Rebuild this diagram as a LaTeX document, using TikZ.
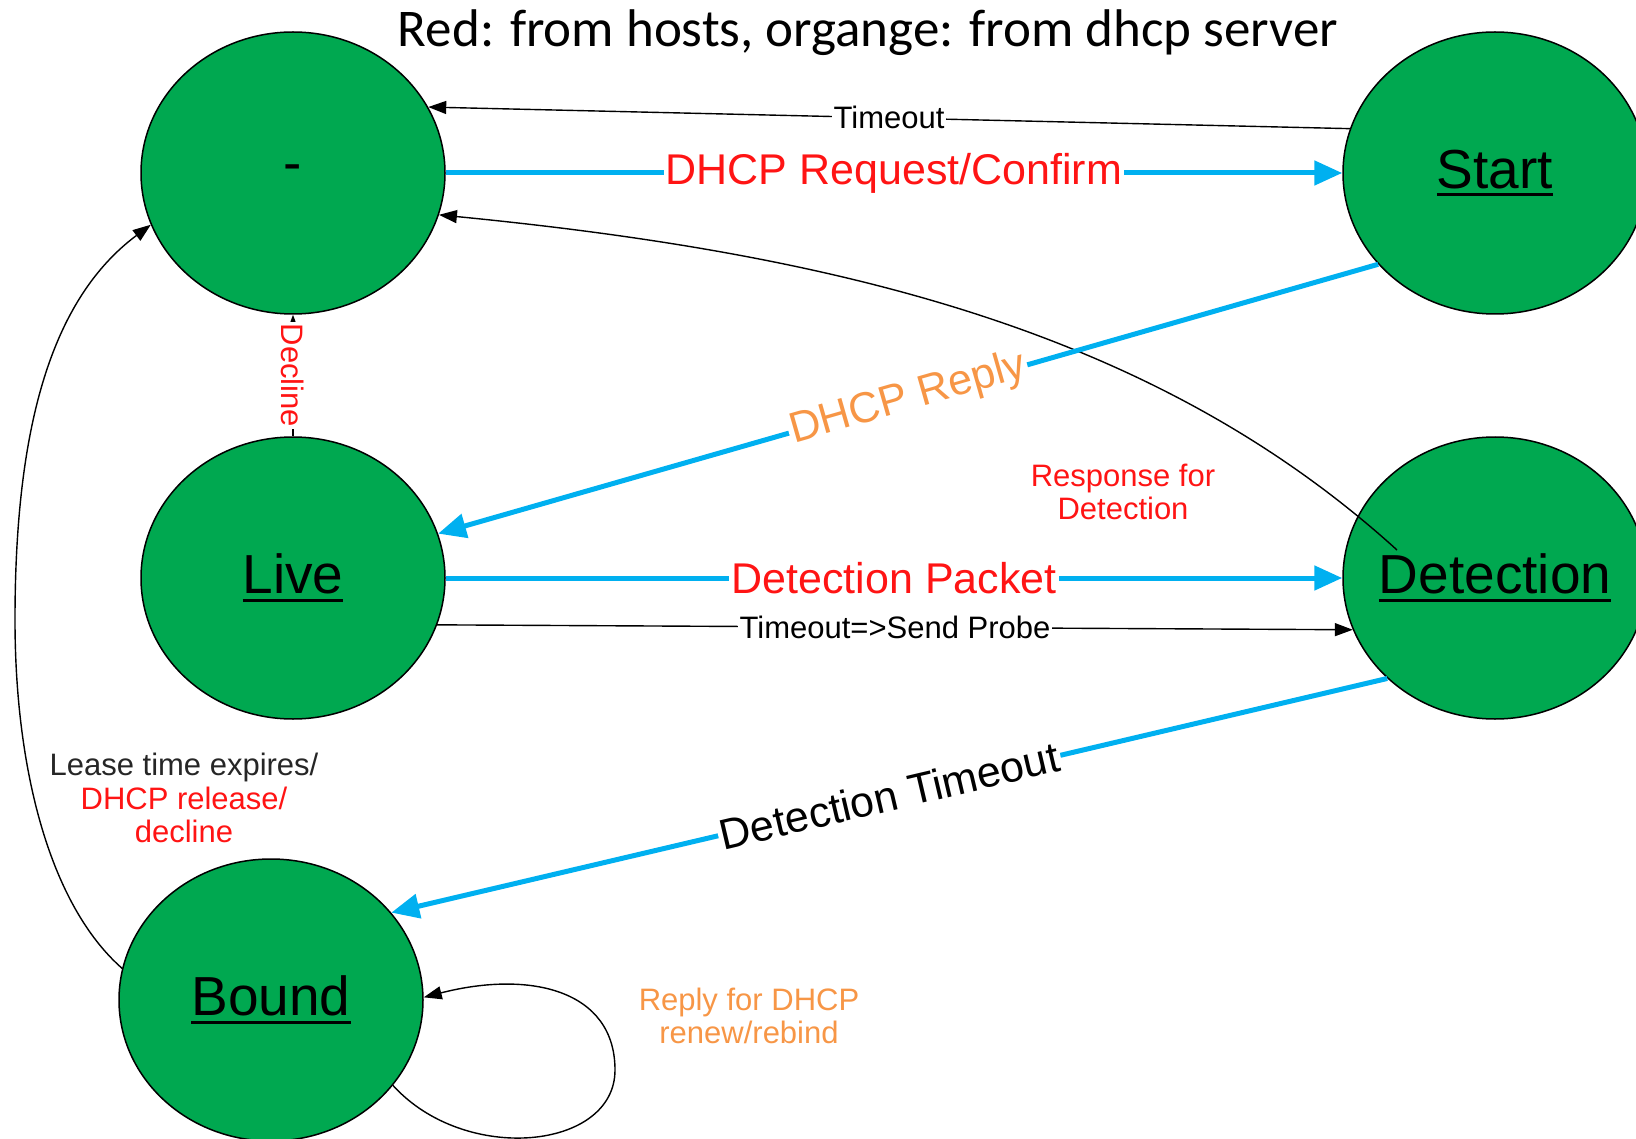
\documentclass[tikz,border=0pt]{standalone}
\usepackage{fontspec}
\setmainfont{Liberation Sans}
\newfontfamily\titlefont{Carlito}
\usetikzlibrary{arrows.meta,calc,shapes.geometric}

\definecolor{stategreen}{RGB}{0,168,80}
\definecolor{flowblue}{RGB}{0,176,240}
\definecolor{hostred}{RGB}{255,20,20}
\definecolor{srvorange}{RGB}{247,150,70}

% state name with a heavy underline; zero width so the ellipse keeps its size
\newcommand\stname[1]{\makebox[0pt]{\setbox0\hbox{#1}\rlap{\rule[-8pt]{\wd0}{3pt}}\box0}}

\begin{document}
\begin{tikzpicture}[x=1pt,y=-1pt,
  state/.style={ellipse, draw=black, line width=1.5pt, fill=stategreen,
    minimum width=304pt, minimum height=282pt, inner sep=0pt,
    font=\fontsize{55}{60}\selectfont},
  thinedge/.style={draw=black, line width=1.4pt,
    -{Triangle[length=18pt,width=13pt]}},
  blueedge/.style={draw=flowblue, line width=5pt,
    -{Triangle[length=28pt,width=24pt]}},
  biglbl/.style={fill=white, inner sep=2pt, font=\fontsize{43}{48}\selectfont},
  smalllbl/.style={fill=white, inner sep=2pt, font=\fontsize{31}{35}\selectfont},
  note/.style={align=center, inner sep=0pt, font=\fontsize{31}{33.5}\selectfont},
]
\useasboundingbox (0,0) rectangle (1636,1139);

% title
\node[anchor=base, font=\titlefont\fontsize{53}{60}\selectfont] (title) at (868,47)
  {Red: from hosts, organge: from dhcp server};

% states
\node[state] (m)     at (293,173)  {\makebox[0pt]{-}};
\node[state] (start) at (1495,173) {\stname{Start}};
\node[state] (live)  at (293,578)  {\stname{Live}};
\node[state] (det)   at (1495,578) {\stname{Detection}};
\node[state] (bound) at (271,1000) {\stname{Bound}};

\coordinate (detin) at ($(det.center)+(-98,-28)$);

% transitions
\draw[thinedge] (start.163) -- node[smalllbl] {Timeout} (m.26);
\draw[blueedge] (m.east) -- node[biglbl, text=hostred] {DHCP Request/Confirm} (start.west);
\draw[thinedge] (detin) .. controls (1160,335) and (850,255) .. (m.-16);
\draw[blueedge] (start.218) -- node[biglbl, text=srvorange, sloped] {DHCP Reply} (live.17);
\draw[blueedge] (live.east) -- node[biglbl, text=hostred] {Detection Packet} (det.west);
\draw[thinedge] (live.-18) -- node[smalllbl] {Timeout=>Send Probe} (det.200);
\draw[blueedge] (det.223) -- node[biglbl, sloped] {Detection Timeout} (bound.36);
\draw[thinedge] (live.north) -- node[smalllbl, text=hostred, rotate=-90] {Decline} (m.south);
\draw[thinedge] (bound.168) .. controls (50,905) and (15,770) .. (15,620)
  .. controls (15,430) and (50,300) .. (m.200);
\draw[thinedge] (bound.-35) .. controls (465,1165) and (615,1150) .. (615,1070)
  .. controls (615,990) and (530,970) .. (bound.1);

% free-standing transition notes
\node[note, text=hostred] (resp) at (1123,492) {Response for\\Detection};
\node[note] (lease) at (184,798)
  {\textcolor{black!85}{Lease time expires/}\\\textcolor{hostred}{DHCP release/}\\\textcolor{hostred}{decline}};
\node[note, text=srvorange] (renew) at (749,1016) {Reply for DHCP\\renew/rebind};
\end{tikzpicture}
\end{document}
